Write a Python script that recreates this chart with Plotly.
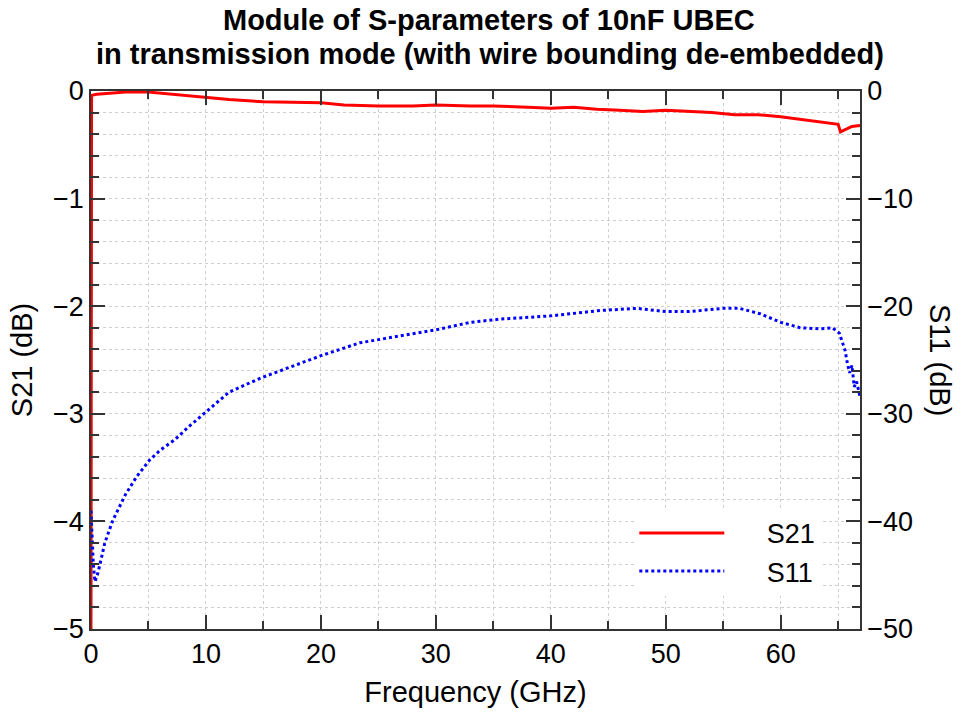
import plotly.graph_objects as go

# ---- data ----
freq_s21 = [0, 0.05, 0.5, 1.5, 3, 5, 7, 10, 12, 15, 18, 20, 22, 25, 28, 30, 33, 35, 38, 40,
            42, 44, 46, 48, 50, 52, 54, 56, 58, 60, 62, 64, 65.0, 65.2, 65.6, 66.2, 66.9]
s21_db = [-5, -0.04, -0.03, -0.02, -0.01, -0.01, -0.03, -0.06, -0.08, -0.1, -0.11, -0.11, -0.13,
          -0.14, -0.14, -0.13, -0.14, -0.14, -0.15, -0.16, -0.15, -0.17, -0.18, -0.19, -0.18,
          -0.19, -0.2, -0.22, -0.22, -0.24, -0.27, -0.3, -0.31, -0.38, -0.36, -0.33, -0.32]

freq_s11 = [0, 0.1, 0.2, 0.35, 0.6, 0.8, 1.2, 1.9, 3, 4, 5.1, 6, 7.3, 8.5, 10, 12, 14.7, 17.3,
            18.2, 20, 23.4, 26.9, 30, 33, 35.6, 40, 44.3, 47.5, 50, 52, 54, 55, 56.4, 58.2, 60,
            61.7, 63.4, 64.5, 65.1, 65.6, 65.8, 66.0, 66.2, 66.4, 66.6, 66.9]
s11_db = [-39, -42, -44, -45.6, -44.8, -43.9, -42, -39.9, -37.5, -35.8, -34.3, -33.4, -32.4,
          -31.2, -29.8, -28, -26.7, -25.7, -25.3, -24.6, -23.4, -22.8, -22.2, -21.5, -21.2,
          -20.9, -20.4, -20.2, -20.5, -20.5, -20.3, -20.2, -20.2, -20.7, -21.5, -22, -22.1,
          -22.0, -22.5, -24.1, -25.3, -26.2, -25.5, -27.5, -27.0, -28.4]

title_lines = ["Module of S-parameters of 10nF UBEC",
               "in transmission mode (with wire bounding de-embedded)"]

FONT = "Liberation Sans, Arial, sans-serif"
PLOT_H = 717 - 91 - 88
PLOT_W = 962 - 91 - 102
PAD = "\u00a0" * 5

fig = go.Figure()
fig.add_trace(go.Scatter(x=freq_s21, y=s21_db, name=PAD + "S21", mode="lines",
                         line=dict(color="#ff0000", width=3), yaxis="y"))
fig.add_trace(go.Scatter(x=freq_s11, y=s11_db, name=PAD + "S11", mode="lines",
                         line=dict(color="#0000ff", width=3, dash="dot"), yaxis="y2"))

grid = dict(showgrid=True, gridcolor="#cfcfcf", griddash="dot", gridwidth=1)

fig.update_layout(
    width=962, height=717,
    paper_bgcolor="white", plot_bgcolor="white",
    font=dict(family=FONT, color="black", size=27),
    margin=dict(l=91, r=102, t=91, b=88, autoexpand=False),
    xaxis=dict(range=[0, 66.9], dtick=10, tick0=0, ticks="inside", ticklen=14, tickwidth=1.5,
               tickcolor="#333", showline=True, linecolor="#333", linewidth=1.5, mirror="ticks",
               zeroline=False, automargin=False,
               title=dict(text="Frequency (GHz)", font=dict(size=29), standoff=14),
               minor=dict(dtick=5, ticks="inside", ticklen=8, tickcolor="#333", **grid), **grid),
    yaxis=dict(range=[-5, 0], dtick=1, ticks="inside", ticklen=14, tickwidth=1.5, tickcolor="#333",
               showline=True, linecolor="#333", linewidth=1.5, zeroline=False, automargin=False,
               title=dict(text="S21 (dB)", font=dict(size=29), standoff=12),
               minor=dict(dtick=0.2, ticks="inside", ticklen=8, tickcolor="#333", **grid), **grid),
    yaxis2=dict(range=[-50, 0], dtick=10, overlaying="y", side="right", ticks="inside", ticklen=14,
                tickwidth=1.5, tickcolor="#333", showline=True, linecolor="#333", linewidth=1.5,
                zeroline=False, showgrid=False, automargin=False,
                minor=dict(dtick=2, ticks="inside", ticklen=8, tickcolor="#333")),
    legend=dict(x=0.7065, y=0.2233, xanchor="left", yanchor="top", bgcolor="rgba(255,255,255,1)",
                font=dict(size=27), itemwidth=85, tracegroupgap=0),
    annotations=[
        dict(text="<b>%s</b>" % title_lines[0], xref="paper", yref="paper", x=(489 - 91) / PLOT_W,
             y=1 + 71 / PLOT_H, xanchor="center", yanchor="middle", showarrow=False,
             font=dict(size=29, family=FONT, color="black")),
        dict(text="<b>%s</b>" % title_lines[1], xref="paper", yref="paper", x=(490 - 91) / PLOT_W,
             y=1 + 37 / PLOT_H, xanchor="center", yanchor="middle", showarrow=False,
             font=dict(size=29, family=FONT, color="black")),
        dict(text="S11 (dB)", xref="paper", yref="paper", x=1 + 80 / PLOT_W, y=0.5,
             xanchor="center", yanchor="middle", textangle=90, showarrow=False,
             font=dict(size=29, family=FONT, color="black")),
    ],
)

fig.write_html("out.html", config={"displayModeBar": False},
               post_script="document.body.style.margin='0';document.body.style.padding='0';")
